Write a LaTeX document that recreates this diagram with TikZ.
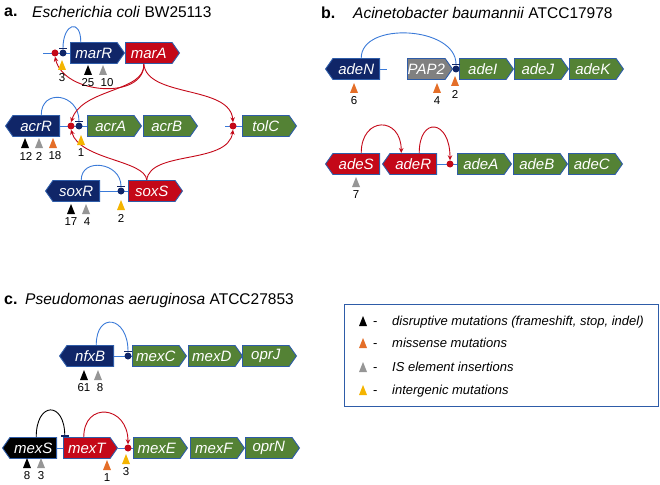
\documentclass[tikz,border=0pt]{standalone}
\usepackage{fontspec}
\setmainfont{Liberation Sans}
\usetikzlibrary{shapes.symbols,arrows.meta}

\definecolor{navyg}{RGB}{16,38,104}
\definecolor{edgeblue}{RGB}{46,92,168}
\definecolor{greeng}{RGB}{84,130,53}
\definecolor{redg}{RGB}{196,8,24}
\definecolor{greyg}{RGB}{128,128,128}
\definecolor{arcblue}{RGB}{58,122,216}
\definecolor{yellowm}{RGB}{244,180,0}
\definecolor{orangem}{RGB}{228,110,40}
\definecolor{greym}{RGB}{150,150,150}

\tikzset{
  gene/.style={signal, signal from=nowhere, signal pointer angle=110, draw=edgeblue, line width=0.9pt,
    minimum height=21pt, minimum width=54pt, inner sep=0pt, text=white,
    font=\fontsize{15}{15}\selectfont\itshape, anchor=west},
  fwd/.style={gene, signal to=east},
  rev/.style={gene, signal to=west},
  dna/.style={arcblue, line width=0.9pt},
  actdot/.style={circle, fill=redg, inner sep=0pt, minimum size=7pt},
  repdot/.style={circle, fill=navyg, inner sep=0pt, minimum size=7pt},
  reparc/.style={arcblue, line width=0.9pt, -{Bar[width=8pt,line width=1.6pt,color=navyg]}},
  actarc/.style={redg, line width=0.9pt, -{Stealth[length=5pt,width=4.5pt]}},
  numlab/.style={font=\fontsize{11.5}{11.5}\selectfont, inner sep=0pt},
  panel/.style={font=\fontsize{16}{16}\selectfont\bfseries, anchor=west, inner sep=0pt},
  title/.style={font=\fontsize{15.5}{15.5}\selectfont, anchor=west, inner sep=0pt},
  legtext/.style={font=\fontsize{13}{13}\selectfont\itshape, anchor=base west, inner sep=0pt}
}

\begin{document}
\begin{tikzpicture}[x=1pt,y=-1pt]
    \useasboundingbox (0,0) rectangle (660,484);

    % Titoli
    \node[panel] (la) at (4,12) {a.};
    \node[title] (ta) at (32,12) {\textit{Escherichia coli} BW25113};
    \node[panel] (lb) at (321,13) {b.};
    \node[title] (tb) at (353,13) {\textit{Acinetobacter baumannii} ATCC17978};
    \node[panel] (lc) at (4,300) {c.};
    \node[title] (tc) at (25,300) {\textit{Pseudomonas aeruginosa} ATCC27853};

    % Geni (a)
    \node[fwd, fill=navyg] (marR) at (70,53) {marR};
    \node[fwd, fill=redg] (marA) at (125,53) {marA};
    \node[rev, fill=navyg] (acrR) at (5,126) {acrR};
    \node[fwd, fill=greeng] (acrA) at (87,126) {acrA};
    \node[fwd, fill=greeng] (acrB) at (143,126) {acrB};
    \node[fwd, fill=greeng] (tolC) at (242,126) {tolC};
    \node[rev, fill=navyg] (soxR) at (45,191) {soxR};
    \node[fwd, fill=redg] (soxS) at (128,191) {soxS};

    % Geni (b)
    \node[rev, fill=navyg] (adeN) at (325,69) {adeN};
    \node[fwd, fill=greyg, minimum width=45pt] (PAP2) at (407,69) {PAP2};
    \node[fwd, fill=greeng] (adeI) at (459,69) {adeI};
    \node[fwd, fill=greeng] (adeJ) at (514,69) {adeJ};
    \node[fwd, fill=greeng] (adeK) at (569,69) {adeK};
    \node[rev, fill=redg] (adeS) at (325,164) {adeS};
    \node[rev, fill=redg] (adeR) at (382,164) {adeR};
    \node[fwd, fill=greeng] (adeA) at (457,164) {adeA};
    \node[fwd, fill=greeng] (adeB) at (513,164) {adeB};
    \node[fwd, fill=greeng] (adeC) at (568,164) {adeC};

    % Geni (c)
    \node[rev, fill=navyg] (nfxB) at (59,356) {nfxB};
    \node[fwd, fill=greeng] (mexC) at (132,356) {mexC};
    \node[fwd, fill=greeng] (mexD) at (188,356) {mexD};
    \node[fwd, fill=greeng] (oprJ) at (242,356) {oprJ};
    \node[rev, fill=black] (mexS) at (2,448) {mexS};
    \node[fwd, fill=redg] (mexT) at (63,448) {mexT};
    \node[fwd, fill=greeng] (mexE) at (133,448) {mexE};
    \node[fwd, fill=greeng] (mexF) at (190,448) {mexF};
    \node[fwd, fill=greeng] (oprN) at (245,448) {oprN};

    % DNA
    \coordinate (mstart) at (43,53);
    \coordinate (tstart) at (225,126);
    \coordinate (nstub) at (387,69);
    \draw[dna] (mstart) -- (marR.west);
    \draw[dna] (acrR.east) -- (acrA.west);
    \draw[dna] (soxR.east) -- (soxS.west);
    \draw[dna] (tstart) -- (tolC.west);
    \draw[dna] (adeN.east) -- (nstub);
    \draw[dna] (adeR.east) -- (adeA.west);
    \draw[dna] (nfxB.east) -- (mexC.west);
    \draw[dna] (mexS.east) -- (mexT.west);
    \draw[dna] (mexT.east) -- (mexE.west);

    % Promotori
    \node[actdot] (pmarR) at (55,53) {};
    \node[repdot] (rmarR) at (63,53) {};
    \node[actdot] (pacrA) at (71,126) {};
    \node[repdot] (racrA) at (79,126) {};
    \node[actdot] (ptolC) at (233,126) {};
    \node[repdot] (rsoxS) at (121,191) {};
    \node[repdot] (radeI) at (456,69) {};
    \node[actdot] (padeA) at (450,164) {};
    \node[repdot] (rmexC) at (128,356) {};
    \node[actdot] (pmexE) at (128,448) {};

    % Archi
    \draw[reparc] ([xshift=-13pt]marR.north) .. controls +(0,-24) and +(0,-26) .. (rmarR.north);
    \draw[reparc] ([xshift=5pt]acrR.north) .. controls +(0,-27) and +(0,-29) .. (racrA.north);
    \draw[reparc] ([xshift=5pt]soxR.north) .. controls +(0,-23) and +(0,-25) .. (rsoxS.north);
    \draw[reparc] ([xshift=5pt]adeN.north) .. controls +(0,-37) and +(0,-39) .. (radeI.north);
    \draw[reparc] ([xshift=6pt]nfxB.north) .. controls +(0,-34) and +(0,-36) .. (rmexC.north);
    \draw[line width=0.9pt, -{Bar[width=8pt,line width=1.6pt,color=navyg]}]
        ([xshift=3pt]mexS.north) .. controls +(0,-36) and +(0,-36) .. ([xshift=-22pt]mexT.north);
    \draw[actarc] ([xshift=-3pt]mexT.north) .. controls +(0,-36) and +(0,-39) .. (pmexE.north);
    \draw[actarc] ([xshift=5pt]adeS.north) .. controls +(0,-37) and +(0,-37) .. ([xshift=-12pt]adeR.north);
    \draw[actarc] ([xshift=6pt]adeR.north) .. controls +(0,-37) and +(0,-41) .. (padeA.north);
    \draw[actarc] ([xshift=-5pt]marA.south) .. controls (145,100) and (64,95) .. (pmarR.south);
    \draw[actarc] ([xshift=-5pt]marA.south) .. controls (146,92) and (82,88) .. (pacrA.north);
    \draw[actarc] ([xshift=-5pt]marA.south) .. controls (147,98) and (230,85) .. (ptolC.north);
    \draw[actarc] ([xshift=-5pt]soxS.north) .. controls (150,150) and (228,165) .. (ptolC.south);
    \draw[actarc] ([xshift=-5pt]soxS.north) .. controls (145,160) and (80,160) .. (pacrA.south);

    % Mutazioni
    \foreach \x/\y/\c/\n/\lx [count=\i] in {62/60/yellowm/3/62, 88/65/black/25/88, 103/65/greym/10/107,
        25/138/black/12/26, 39/138/greym/2/39, 53/138/orangem/18/55, 81/135/yellowm/1/81,
        71/204/black/17/71, 86/204/greym/4/87, 121/200/yellowm/2/121,
        354/83/orangem/6/354, 437/83/orangem/4/437, 455/76/orangem/2/455, 356/177/greym/7/356,
        84/370/black/61/84, 98/370/greym/8/100, 27/458/black/8/27, 41/458/greym/3/41,
        107/460/orangem/1/107, 126/454/yellowm/3/126} {
        \fill[\c] (\x-4,\y+10) -- (\x,\y) -- (\x+4,\y+10) -- cycle;
        \node[numlab] (m\i) at (\lx,\y+18) {\n};
    }

    % Legenda
    \node[draw=edgeblue, line width=1pt, minimum width=314pt, minimum height=102pt,
        anchor=north west, inner sep=0pt] (leg) at (344,304) {};
    \foreach \y/\c/\t [count=\i] in {321/black/{disruptive mutations (frameshift, stop, indel)},
        343/orangem/{missense mutations}, 367/greym/{IS element insertions},
        390/yellowm/{intergenic mutations}} {
        \fill[\c] (359,\y+5) -- (363,\y-5) -- (367,\y+5) -- cycle;
        \node[legtext] (d\i) at (373,\y+4.5) {\upshape -};
        \node[legtext] (l\i) at (392,\y+4.5) {\t};
    }
\end{tikzpicture}
\end{document}
